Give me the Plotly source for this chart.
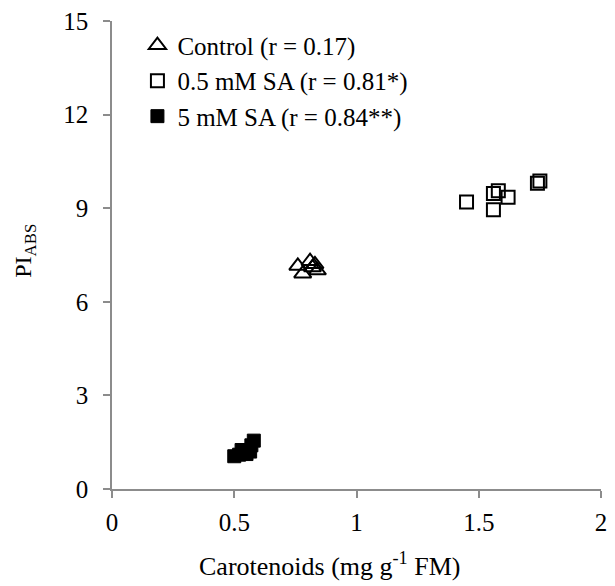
import plotly.graph_objects as go

# Data
control_x = [0.76, 0.78, 0.81, 0.82, 0.83, 0.84]
control_y = [7.15, 6.9, 7.3, 7.1, 7.2, 7.0]

sa05_x = [1.45, 1.56, 1.56, 1.58, 1.62, 1.74, 1.75]
sa05_y = [9.2, 8.95, 9.47, 9.56, 9.35, 9.8, 9.87]

sa5_x = [0.50, 0.52, 0.53, 0.55, 0.565, 0.57, 0.58]
sa5_y = [1.05, 1.1, 1.25, 1.12, 1.2, 1.4, 1.55]

x_ticks = [0, 0.5, 1, 1.5, 2]
x_ticklabels = ["0", "0.5", "1", "1.5", "2"]
y_ticks = [0, 3, 6, 9, 12, 15]

FONT = "Liberation Serif, Times New Roman, serif"

fig = go.Figure()
fig.add_trace(go.Scatter(
    x=control_x, y=control_y, mode="markers", name="Control (r = 0.17)",
    legendgroup="a",
    marker=dict(symbol="triangle-up-open", size=15, color="black", line=dict(width=2, color="black")),
))
fig.add_trace(go.Scatter(
    x=sa05_x, y=sa05_y, mode="markers", name="0.5 mM SA (r = 0.81*)",
    legendgroup="b",
    marker=dict(symbol="square-open", size=13, color="black", line=dict(width=2, color="black")),
))
fig.add_trace(go.Scatter(
    x=sa5_x, y=sa5_y, mode="markers", name="5 mM SA (r = 0.84**)",
    legendgroup="c",
    marker=dict(symbol="square", size=13, color="black", line=dict(width=1, color="black")),
))

axis_common = dict(
    showgrid=False, zeroline=False, showline=True, linecolor="#8c8c8c", linewidth=1.5,
    ticks="outside", ticklen=7, tickcolor="#8c8c8c", tickwidth=1.5,
    tickfont=dict(family=FONT, size=25, color="black"),
)

fig.update_xaxes(range=[0, 2], tickvals=x_ticks, ticktext=x_ticklabels, ticklabelstandoff=3, **axis_common)
fig.update_yaxes(range=[0, 15], tickvals=y_ticks, ticklabelstandoff=10, **axis_common)

fig.add_annotation(
    text="PI<sub>ABS</sub>", xref="paper", yref="paper", x=-0.177, y=0.51,
    textangle=-90, showarrow=False, font=dict(family=FONT, size=24, color="black"),
    xanchor="center", yanchor="middle",
)
fig.add_annotation(
    text="Carotenoids (mg g<sup>-1</sup> FM)", xref="paper", yref="paper", x=0.444, y=-0.162,
    showarrow=False, font=dict(family=FONT, size=26, color="black"),
    xanchor="center", yanchor="middle",
)

fig.update_layout(
    width=615, height=586,
    margin=dict(l=112, r=8, t=20, b=97),
    paper_bgcolor="white", plot_bgcolor="white",
    font=dict(family=FONT, size=25, color="black"),
    showlegend=True,
    legend=dict(
        x=0.052, y=0.997, xanchor="left", yanchor="top",
        font=dict(family=FONT, size=25, color="black"),
        bgcolor="rgba(0,0,0,0)", tracegroupgap=0, itemwidth=30,
    ),
)

fig.write_html("out.html")
